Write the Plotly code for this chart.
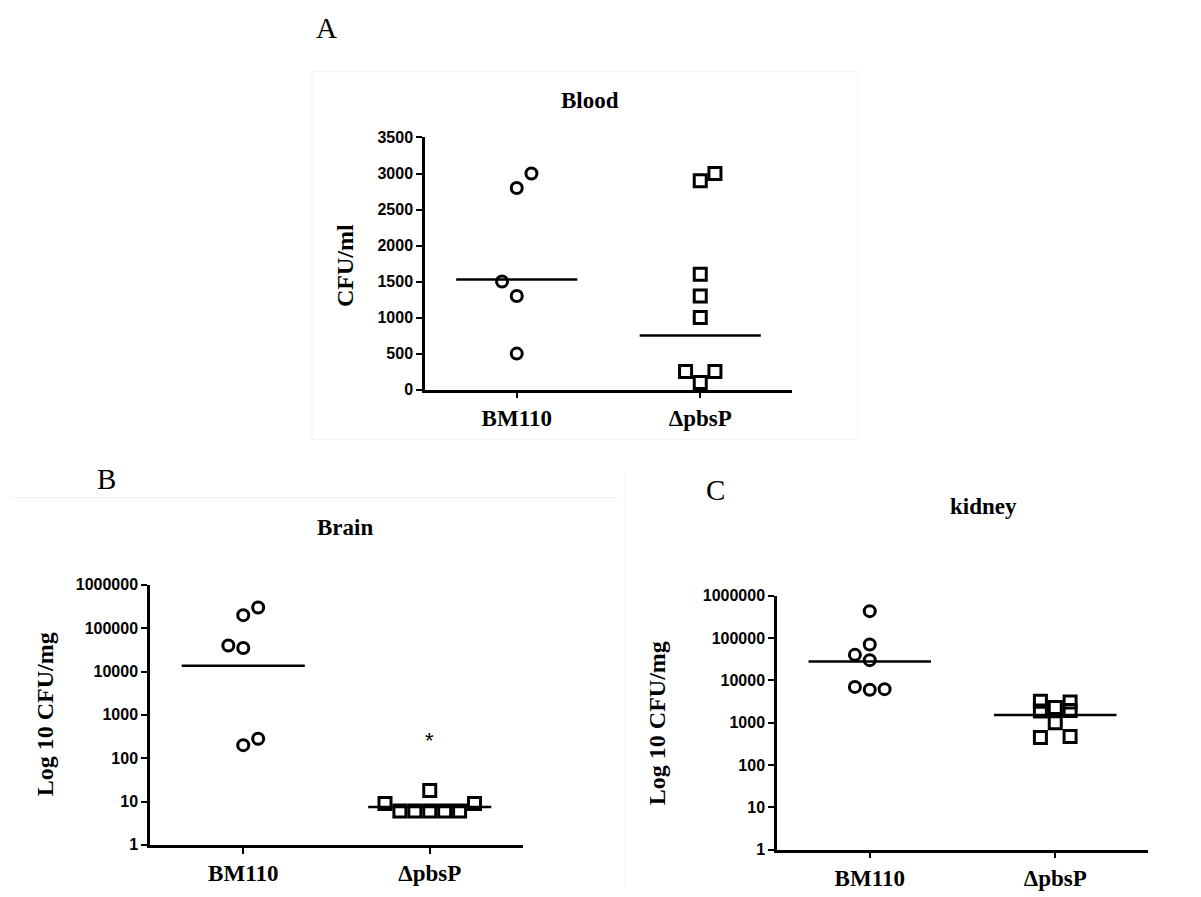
import plotly.graph_objects as go
import numpy as np

W, H = 1201, 897

categories = ["BM110", "ΔpbsP"]

# Panel A: Blood (CFU/ml)
blood_bm110 = [3000, 2800, 1500, 1300, 500]
blood_bm110_jit = [0.08, 0.0, -0.08, 0.0, 0.0]
blood_pbsp = [3000, 2900, 1600, 1300, 1000, 250, 250, 100]
blood_pbsp_jit = [0.08, 0.0, 0.0, 0.0, 0.0, -0.08, 0.08, 0.0]
blood_center = [1530, 750]

# Panel B: Brain (CFU/mg)
brain_bm110 = [300000, 200000, 40000, 35000, 280, 200]
brain_bm110_jit = [0.08, 0.0, -0.08, 0.0, 0.08, 0.0]
brain_pbsp = [9, 6, 6, 6, 6, 6, 9, 18]
brain_pbsp_jit = [-0.24, -0.16, -0.08, 0.0, 0.08, 0.16, 0.24, 0.0]
brain_center = [13500, 7.5]
brain_star = 360

# Panel C: kidney (CFU/mg)
kidney_bm110 = [430000, 70000, 40000, 30000, 7000, 6000, 6200]
kidney_bm110_jit = [0.0, 0.0, -0.08, 0.0, -0.08, 0.0, 0.08]
kidney_pbsp = [3200, 1900, 2300, 1000, 3100, 1950, 450, 470]
kidney_pbsp_jit = [-0.08, -0.08, 0.0, 0.0, 0.08, 0.08, -0.08, 0.08]
kidney_center = [28000, 1520]

log_ticks = [1, 10, 100, 1000, 10000, 100000, 1000000]
lin_ticks = [0, 500, 1000, 1500, 2000, 2500, 3000, 3500]


def px_x(p):
    return p / W


def px_y(p):
    return 1 - p / H


fig = go.Figure()

circle = dict(symbol="circle-open", size=11, color="black", line=dict(width=3, color="black"))
square = dict(symbol="square-open", size=12, color="black", line=dict(width=3, color="black"))


def add_panel(idx, vals_a, jit_a, vals_b, jit_b, centers):
    xa = "x" if idx == 1 else f"x{idx}"
    ya = "y" if idx == 1 else f"y{idx}"
    fig.add_trace(go.Scatter(x=[0 + j for j in jit_a], y=vals_a, mode="markers",
                             marker=circle, xaxis=xa, yaxis=ya, showlegend=False,
                             cliponaxis=False))
    fig.add_trace(go.Scatter(x=[1 + j for j in jit_b], y=vals_b, mode="markers",
                             marker=square, xaxis=xa, yaxis=ya, showlegend=False,
                             cliponaxis=False))
    for i, c in enumerate(centers):
        fig.add_trace(go.Scatter(x=[i - 0.33, i + 0.33], y=[c, c], mode="lines",
                                 line=dict(color="black", width=2.5), xaxis=xa, yaxis=ya,
                                 showlegend=False, cliponaxis=False))


add_panel(1, blood_bm110, blood_bm110_jit, blood_pbsp, blood_pbsp_jit, blood_center)
add_panel(2, brain_bm110, brain_bm110_jit, brain_pbsp, brain_pbsp_jit, brain_center)
add_panel(3, kidney_bm110, kidney_bm110_jit, kidney_pbsp, kidney_pbsp_jit, kidney_center)

serif = "Liberation Serif"
sans = "Liberation Sans"

xcommon = dict(range=[-0.5, 1.5], tickvals=[0, 1],
               ticktext=[f"<b>{c}</b>" for c in categories],
               showline=True, linecolor="black", linewidth=2.5, ticks="outside",
               ticklen=6, tickwidth=2, tickcolor="black", showgrid=False, zeroline=False,
               tickfont=dict(family=serif, size=23, color="black"),
               fixedrange=True)
ycommon = dict(showline=True, linecolor="black", linewidth=2.5, ticks="outside",
               ticklen=6, tickwidth=2, tickcolor="black", showgrid=False, zeroline=False,
               tickfont=dict(family=sans, size=16, color="black"),
               fixedrange=True)

fig.update_layout(
    width=W, height=H, margin=dict(l=0, r=0, t=0, b=0),
    paper_bgcolor="white", plot_bgcolor="white", showlegend=False,
    xaxis=dict(domain=[px_x(425), px_x(792)], anchor="y", **xcommon),
    yaxis=dict(domain=[px_y(389), px_y(132)], anchor="x", range=[0, 3500],
               tickvals=lin_ticks, ticktext=[f"<b>{t}</b>" for t in lin_ticks], **ycommon),
    xaxis2=dict(domain=[px_x(150), px_x(523)], anchor="y2", **xcommon),
    yaxis2=dict(domain=[px_y(853), px_y(588)], anchor="x2", type="log", range=[0, 6],
                tickvals=log_ticks, ticktext=[f"<b>{t}</b>" for t in log_ticks], **ycommon),
    xaxis3=dict(domain=[px_x(777), px_x(1148)], anchor="y3", **xcommon),
    yaxis3=dict(domain=[px_y(858), px_y(599)], anchor="x3", type="log", range=[0, 6],
                tickvals=log_ticks, ticktext=[f"<b>{t}</b>" for t in log_ticks], **ycommon),
)

ann = []


def paper_text(text, x, y, size, bold=True, angle=0):
    ann.append(dict(text=f"<b>{text}</b>" if bold else text, x=px_x(x), y=px_y(y),
                    xref="paper", yref="paper",
                    xanchor="center", yanchor="middle", showarrow=False, textangle=angle,
                    font=dict(family=serif, size=size, color="black")))


paper_text("A", 327, 20, 29, bold=False)
paper_text("B", 106, 480, 29, bold=False)
paper_text("C", 715, 491, 29, bold=False)
paper_text("Blood", 590, 94, 23)
paper_text("Brain", 345, 530, 23)
paper_text("kidney", 983, 508, 23)
paper_text("CFU/ml", 345, 263, 24, angle=-90)
paper_text("Log 10 CFU/mg", 45, 720, 24, angle=-90)
paper_text("Log 10 CFU/mg", 657, 729, 24, angle=-90)

ann.append(dict(text="*", x=1, y=np.log10(brain_star), xref="x2", yref="y2",
                xanchor="center", yanchor="middle", showarrow=False, yshift=-6,
                font=dict(family=sans, size=22, color="black")))

fig.update_layout(annotations=ann)

# faint panel frames
fig.add_shape(type="rect", xref="paper", yref="paper", x0=px_x(312), x1=px_x(858),
              y0=px_y(440), y1=px_y(65), line=dict(color="#f2f2f2", width=1))
fig.add_shape(type="line", xref="paper", yref="paper", x0=px_x(10), x1=px_x(620),
              y0=px_y(499), y1=px_y(499), line=dict(color="#f2f2f2", width=1))
fig.add_shape(type="line", xref="paper", yref="paper", x0=px_x(625), x1=px_x(625),
              y0=px_y(475), y1=0, line=dict(color="#f2f2f2", width=1))

fig.write_html("out.html")
